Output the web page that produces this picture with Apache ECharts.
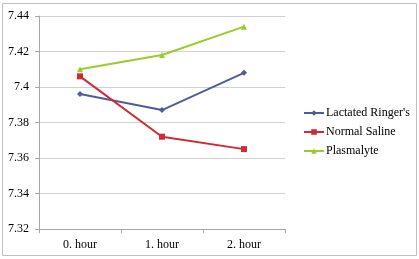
<!DOCTYPE html>
<html><head><meta charset="utf-8">
<script src="https://cdn.jsdelivr.net/npm/echarts@6/dist/echarts.min.js"></script>
<style>html,body{margin:0;padding:0;background:#fff}#c{width:419px;height:259px}</style>
</head><body><div id="c"></div>
<script>
const categories = ['0. hour', '1. hour', '2. hour'];
const lactatedRinger = [7.396, 7.387, 7.408];
const normalSaline = [7.406, 7.372, 7.365];
const plasmalyte = [7.410, 7.418, 7.434];
const seriesNames = ["Lactated Ringer's", 'Normal Saline', 'Plasmalyte'];
const font = '"Liberation Serif", "DejaVu Serif", serif';
const chart = echarts.init(document.getElementById('c'));
const mk = (name, data, color, symbol, size) => ({
  name, type: 'line', data, symbol, symbolSize: size,
  lineStyle: { color, width: 2 }, itemStyle: { color },
  animation: false
});
chart.setOption({
  animation: false,
  graphic: [{ type: 'rect', shape: { x: 2.5, y: 3.5, width: 414, height: 252 },
    style: { fill: 'none', stroke: '#bfbfbf', lineWidth: 1 } }],
  grid: { left: 39, right: 134, top: 16, bottom: 30 },
  legend: {
    orient: 'vertical', left: 298, top: 102, itemWidth: 20, itemHeight: 7, itemGap: 7,
    textStyle: { fontFamily: font, fontSize: 12, color: '#000', padding: [0, 0, 0, -3] },
    data: seriesNames
  },
  xAxis: {
    type: 'category', data: categories, boundaryGap: true,
    axisLine: { lineStyle: { color: '#a6a6a6' } },
    axisTick: { show: true, length: 4, lineStyle: { color: '#a6a6a6' } },
    axisLabel: { fontFamily: font, fontSize: 12, color: '#000', margin: 10 }
  },
  yAxis: {
    type: 'value', min: 7.32, max: 7.44, interval: 0.02,
    axisLine: { show: true, lineStyle: { color: '#a6a6a6' } },
    axisTick: { show: true, length: 4, lineStyle: { color: '#a6a6a6' } },
    splitLine: { lineStyle: { color: '#d0d0d0' } },
    axisLabel: { fontFamily: font, fontSize: 12, color: '#000', margin: 10,
      formatter: v => String(Number(v.toFixed(2))) }
  },
  series: [
    mk(seriesNames[0], lactatedRinger, '#4f5c9a', 'diamond', 6),
    mk(seriesNames[1], normalSaline, '#d12a35', 'rect', 6),
    mk(seriesNames[2], plasmalyte, '#99cc2c', 'triangle', 6)
  ]
});
</script></body></html>
